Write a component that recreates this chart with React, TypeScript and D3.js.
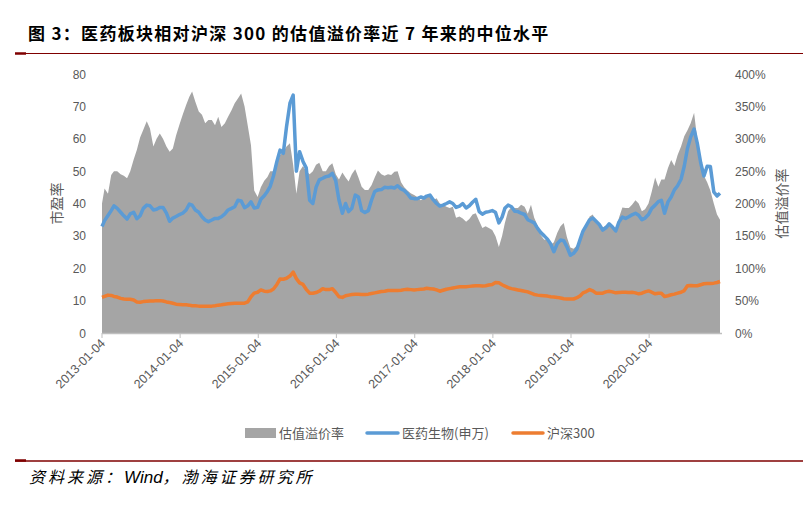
import React, { useEffect, useRef } from 'react';
import * as d3 from 'd3';

// semi-monthly samples (1st and 16th of each month), first and last are the real end dates
const START = '2013-01-04';
const END = '2020-11-30';

const xTickLabels = [
  '2013-01-04', '2014-01-04', '2015-01-04', '2016-01-04',
  '2017-01-04', '2018-01-04', '2019-01-04', '2020-01-04',
];
const leftTicks = [0, 10, 20, 30, 40, 50, 60, 70, 80];
const rightTicks = [0, 50, 100, 150, 200, 250, 300, 350, 400];

// 估值溢价率 (%), right axis
const premium = [
  200, 223, 215, 244, 250, 250, 245, 243, 239, 250, 268, 283, 302, 314, 327, 316, 288, 300, 308, 300, 288, 280, 285, 305,
  322, 337, 352, 365, 373, 357, 342, 337, 324, 329, 329, 321, 334, 318, 324, 334, 344, 355, 362, 370, 350, 320, 290, 220,
  210, 225, 235, 241, 250, 250, 260, 275, 280, 288, 293, 260, 215, 250, 258, 250, 245, 250, 260, 263, 250, 250, 258, 262,
  245, 237, 248, 240, 234, 245, 253, 240, 226, 221, 221, 228, 240, 251, 245, 243, 245, 244, 249, 250, 233, 225, 220, 216,
  213, 210, 205, 208, 210, 213, 205, 208, 200, 198, 195, 193, 195, 178, 180, 177, 172, 176, 183, 185, 173, 162, 165, 162,
  159, 150, 133, 150, 170, 188, 195, 193, 193, 198, 195, 184, 198, 178, 166, 151, 144, 145, 136, 140, 155, 165, 170, 148,
  132, 130, 135, 143, 153, 167, 180, 183, 170, 164, 163, 166, 168, 162, 159, 178, 194, 193, 193, 198, 205, 200, 188, 191,
  200, 218, 240, 226, 237, 237, 255, 267, 258, 275, 288, 304, 313, 324, 340, 298, 265, 243, 233, 220, 200, 183, 175,
];

// 医药生物(申万) PE, left axis
const pharmaPE = [
  32.9, 34.7, 36.3, 37.8, 39.3, 38.5, 37.3, 36.2, 35.2, 36.8, 37.3, 35.3, 36.2, 38.5, 39.5, 39.3, 38, 38.2, 38.8, 38.8, 37, 34.5, 35.5, 36,
  36.6, 37, 38, 39.8, 39.5, 38, 37.3, 35.9, 34.9, 34.4, 34.9, 35.4, 35.4, 35.9, 36.8, 38, 38.5, 39, 41, 40.8, 38.7, 39.3, 40.5, 38.6,
  38.8, 41.3, 42.4, 43.8, 45.3, 48.5, 53, 56.5, 55.5, 63.7, 71, 73.5, 50, 56, 53, 51, 41, 40, 45, 47.3, 47.8, 48.3, 48.5, 49.3,
  47, 41.1, 37, 40, 37.5, 38.5, 42.6, 42, 37.8, 37.2, 37.8, 41, 43.7, 44.2, 44.3, 45, 44.9, 45, 44.8, 45.5, 44.5, 44, 43, 41.7,
  41.5, 41.5, 42, 41.7, 42.3, 42.6, 41.1, 40, 39.2, 39.5, 40, 40.5, 40, 38.8, 39.2, 40, 38.6, 39.3, 40.4, 41.3, 37.5, 36.7, 37.3, 37.5,
  37.8, 37.3, 34, 35.8, 38.5, 39.5, 39, 37.6, 37.5, 37, 36.6, 35, 34.5, 34, 32.3, 31, 30, 29, 27.5, 25.1, 27.6, 28.7, 28.5, 26.6,
  24, 24.6, 26, 29, 31.5, 33.2, 35, 35.5, 34.5, 33.5, 31.8, 32.5, 33.7, 32.8, 31.5, 34.3, 35.8, 35.4, 35.9, 36.5, 37, 36.4, 35, 35.5,
  36.6, 38.5, 39.5, 40.6, 41, 37, 40.5, 42, 44.2, 45.5, 47.5, 51.5, 57, 60.5, 63, 58.6, 52.5, 48.5, 51.5, 51.4, 43.6, 42.3, 43.2,
];

// 沪深300 PE, left axis
const hs300PE = [
  11, 11.3, 11.7, 11.6, 11.3, 11.1, 10.7, 10.5, 10.4, 10.4, 10.2, 9.6, 9.5, 9.7, 9.8, 9.9, 9.9, 10, 10, 9.9, 9.6, 9.4, 9.2, 8.9,
  8.8, 8.7, 8.7, 8.6, 8.4, 8.4, 8.3, 8.3, 8.3, 8.3, 8.3, 8.4, 8.6, 8.7, 8.9, 9, 9.1, 9.2, 9.2, 9.2, 9.2, 9.6, 11.2, 12.3,
  12.6, 13.3, 12.9, 12.8, 13, 13.6, 15, 16.7, 16.6, 16.9, 17.6, 18.8, 16.8, 15.5, 15, 13.5, 12.3, 12.3, 12.5, 12.9, 13.7, 13.4, 13.4, 13.7,
  12.5, 11.2, 11, 11.5, 11.7, 11.9, 12, 12, 11.9, 11.9, 12, 12.2, 12.4, 12.6, 12.8, 12.9, 13.1, 13.1, 13.1, 13.1, 13.2, 13.4, 13.5, 13.4,
  13.3, 13.4, 13.5, 13.6, 13.8, 13.7, 13.6, 13.3, 12.9, 13.2, 13.5, 13.7, 13.9, 14.1, 14.3, 14.3, 14.3, 14.4, 14.5, 14.6, 14.6, 14.5, 14.6, 14.8,
  15, 15.6, 15.5, 14.9, 14.5, 14, 13.7, 13.5, 13.3, 13.1, 12.9, 12.7, 12.3, 11.9, 11.7, 11.6, 11.5, 11.4, 11.2, 11.1, 11, 10.8, 10.6, 10.5,
  10.5, 10.5, 10.9, 11.5, 12.4, 12.8, 13.4, 13, 12.3, 12.3, 12.3, 12.7, 12.9, 12.7, 12.4, 12.5, 12.6, 12.6, 12.5, 12.6, 12.4, 12.1, 12.3, 12.7,
  13, 12.6, 12.1, 12.3, 12.3, 11.3, 11.5, 11.8, 12, 12.3, 12.6, 13.1, 14.6, 14.7, 14.6, 14.6, 14.9, 15.2, 15.3, 15.3, 15.4, 15.6, 15.9,
];

const parse = d3.timeParse('%Y-%m-%d');

function buildDates(): Date[] {
  const out: Date[] = [];
  for (let y = 2013; y <= 2020; y++) {
    for (let m = 0; m < 12; m++) {
      if (y === 2020 && m === 11) break;
      out.push(new Date(y, m, 1), new Date(y, m, 16));
    }
  }
  out[0] = parse(START) as Date;
  out.push(parse(END) as Date);
  return out;
}

const GREY = '#a5a5a5';
const BLUE = '#5b9bd5';
const ORANGE = '#ed7d31';
const TEXT = '#595959';
const RED = '#7f0000';
const NUM_FONT = '"Liberation Sans", Arial, "Noto Sans CJK SC", sans-serif';
const CJK_FONT = '"Noto Sans CJK SC", "Liberation Sans", sans-serif';

const App: React.FC = () => {
  const svgRef = useRef<SVGSVGElement>(null);

  useEffect(() => {
    if (!svgRef.current) return;
    const width = 803;
    const height = 506;
    const plot = { left: 102, right: 720, top: 74, bottom: 333 };
    const dates = buildDates();

    const svg = d3.select(svgRef.current)
      .attr('width', width)
      .attr('height', height);
    svg.selectAll('*').remove();

    // Title
    svg.append('text')
      .attr('x', 28)
      .attr('y', 40)
      .attr('font-family', CJK_FONT)
      .attr('font-weight', 'bold')
      .attr('font-size', 17)
      .attr('letter-spacing', 1.3)
      .attr('fill', '#000')
      .text('图 3：医药板块相对沪深 300 的估值溢价率近 7 年来的中位水平');

    svg.append('line')
      .attr('x1', 15).attr('x2', 803).attr('y1', 53.5).attr('y2', 53.5)
      .attr('stroke', RED).attr('stroke-width', 1);
    svg.append('line')
      .attr('x1', 15).attr('x2', 26).attr('y1', 53.5).attr('y2', 53.5)
      .attr('stroke', RED).attr('stroke-width', 2.5);

    const x = d3.scaleTime()
      .domain([parse(START) as Date, parse(END) as Date])
      .range([plot.left, plot.right]);
    const yL = d3.scaleLinear().domain([0, 80]).range([plot.bottom, plot.top]);
    const yR = d3.scaleLinear().domain([0, 400]).range([plot.bottom, plot.top]);

    // Premium area
    const area = d3.area<number>()
      .x((_, i) => x(dates[i]))
      .y0(yR(0))
      .y1(d => yR(d));
    svg.append('path')
      .datum(premium)
      .attr('fill', GREY)
      .attr('d', area);

    // X axis
    const g = svg.append('g');
    g.append('line')
      .attr('x1', plot.left).attr('x2', plot.right + 2)
      .attr('y1', plot.bottom + 0.5).attr('y2', plot.bottom + 0.5)
      .attr('stroke', '#bfbfbf').attr('stroke-width', 1.5);
    xTickLabels.forEach(lbl => {
      const tx = x(parse(lbl) as Date);
      g.append('line')
        .attr('x1', tx).attr('x2', tx)
        .attr('y1', plot.bottom).attr('y2', plot.bottom + 5)
        .attr('stroke', '#bfbfbf').attr('stroke-width', 1);
      g.append('text')
        .attr('transform', `translate(${tx + 4},${plot.bottom + 11}) rotate(-45)`)
        .attr('text-anchor', 'end')
        .attr('font-family', NUM_FONT)
        .attr('font-size', 12.5)
        .attr('fill', TEXT)
        .text(lbl);
    });

    // Left axis
    leftTicks.forEach(t => {
      svg.append('text')
        .attr('x', 86).attr('y', yL(t) + 4.5)
        .attr('text-anchor', 'end')
        .attr('font-family', NUM_FONT)
        .attr('font-size', 12)
        .attr('fill', TEXT)
        .text(t);
    });
    svg.append('text')
      .attr('transform', `translate(62,${(plot.top + plot.bottom) / 2}) rotate(-90)`)
      .attr('text-anchor', 'middle')
      .attr('font-family', CJK_FONT)
      .attr('font-size', 14)
      .attr('fill', TEXT)
      .text('市盈率');

    // Right axis
    rightTicks.forEach(t => {
      svg.append('text')
        .attr('x', 735).attr('y', yR(t) + 4.5)
        .attr('font-family', NUM_FONT)
        .attr('font-size', 12)
        .attr('fill', TEXT)
        .text(`${t}%`);
    });
    svg.append('text')
      .attr('transform', `translate(787,${(plot.top + plot.bottom) / 2}) rotate(-90)`)
      .attr('text-anchor', 'middle')
      .attr('font-family', CJK_FONT)
      .attr('font-size', 14)
      .attr('fill', TEXT)
      .text('估值溢价率');

    // Lines
    const line = d3.line<number>()
      .x((_, i) => x(dates[i]))
      .y(d => yL(d));
    svg.append('path')
      .datum(pharmaPE)
      .attr('fill', 'none')
      .attr('stroke', BLUE)
      .attr('stroke-width', 3.5)
      .attr('stroke-linejoin', 'round')
      .attr('d', line);
    svg.append('path')
      .datum(hs300PE)
      .attr('fill', 'none')
      .attr('stroke', ORANGE)
      .attr('stroke-width', 3.5)
      .attr('stroke-linejoin', 'round')
      .attr('d', line);

    // Legend
    const ly = 433;
    const legend = svg.append('g')
      .attr('font-family', CJK_FONT)
      .attr('font-size', 13)
      .attr('fill', TEXT);
    legend.append('rect')
      .attr('x', 245).attr('y', ly - 5).attr('width', 31).attr('height', 10)
      .attr('fill', GREY);
    legend.append('text').attr('x', 279).attr('y', ly + 4.5).text('估值溢价率');
    legend.append('line')
      .attr('x1', 367).attr('x2', 398).attr('y1', ly).attr('y2', ly)
      .attr('stroke', BLUE).attr('stroke-width', 3.5).attr('stroke-linecap', 'round');
    legend.append('text').attr('x', 402).attr('y', ly + 4.5).text('医药生物(申万)');
    legend.append('line')
      .attr('x1', 513).attr('x2', 543).attr('y1', ly).attr('y2', ly)
      .attr('stroke', ORANGE).attr('stroke-width', 3.5).attr('stroke-linecap', 'round');
    legend.append('text').attr('x', 547).attr('y', ly + 4.5).text('沪深300');

    // Footer
    svg.append('line')
      .attr('x1', 15).attr('x2', 803).attr('y1', 461).attr('y2', 461)
      .attr('stroke', RED).attr('stroke-width', 1.5);
    svg.append('line')
      .attr('x1', 15).attr('x2', 26).attr('y1', 460.5).attr('y2', 460.5)
      .attr('stroke', RED).attr('stroke-width', 2.5);
    const foot = svg.append('text')
      .attr('x', 29).attr('y', 483)
      .attr('font-family', CJK_FONT)
      .attr('font-style', 'italic')
      .attr('font-size', 16)
      .attr('fill', '#000');
    foot.append('tspan').attr('letter-spacing', 3).text('资料来源：');
    foot.append('tspan').attr('font-family', NUM_FONT).attr('font-size', 17).text('Wind');
    foot.append('tspan').attr('letter-spacing', 3).text('，渤海证券研究所');
  }, []);

  return (
    <div style={{ position: 'absolute', left: 0, top: 0 }}>
      <svg ref={svgRef} style={{ display: 'block', background: '#fff' }}></svg>
    </div>
  );
};

export default App;
